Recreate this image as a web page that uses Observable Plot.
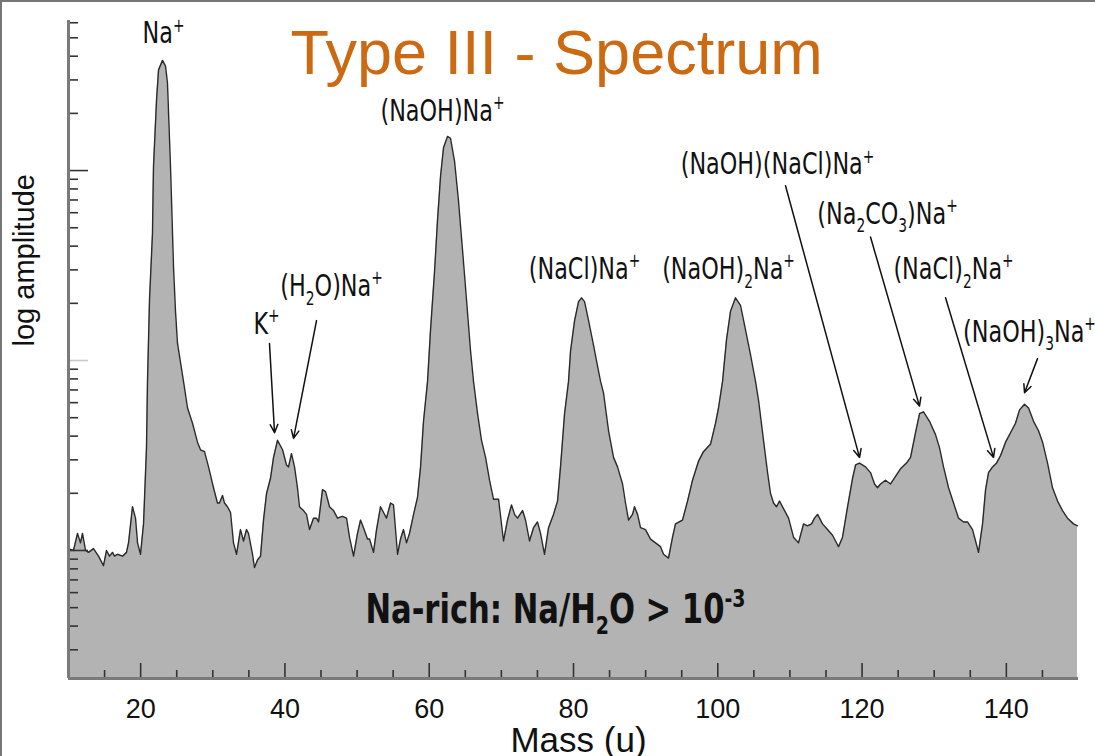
<!DOCTYPE html>
<html><head><meta charset="utf-8">
<script src="https://cdn.jsdelivr.net/npm/d3@7"></script>
<script src="https://cdn.jsdelivr.net/npm/@observablehq/plot@0.6"></script>
<style>
body{margin:0;background:#fff;}
#wrap{position:relative;width:1095px;height:756px;overflow:hidden;}
#border{position:absolute;left:0;top:0;width:1095px;height:756px;border-top:2px solid #777;border-left:2px solid #777;box-sizing:border-box;pointer-events:none;}
</style></head><body><div id="wrap"><div id="border"></div></div>
<script>
// Mass (u)
const mass = [10.00,10.69,11.25,11.66,11.94,12.36,12.77,13.47,14.16,14.85,15.27,15.68,16.10,16.38,16.79,17.49,18.04,18.32,18.87,19.29,19.57,19.98,20.40,20.81,20.95,21.23,21.64,21.78,22.20,22.48,23.03,23.45,23.72,24.14,24.56,24.83,25.11,25.94,26.50,27.19,27.88,28.30,28.85,29.41,30.10,30.65,30.93,31.35,31.62,32.04,32.46,32.87,33.29,33.84,34.26,34.67,34.95,35.51,35.78,36.20,36.62,37.03,37.45,38.00,38.42,38.97,39.67,40.22,40.50,40.91,41.33,41.74,42.02,42.58,42.99,43.41,43.96,44.38,44.66,45.21,45.63,46.18,46.74,47.29,47.98,48.54,48.95,49.51,50.06,50.48,50.89,51.45,51.73,52.28,52.70,53.25,53.67,54.08,54.64,55.05,55.61,56.02,56.44,56.85,57.27,57.83,58.38,58.80,59.21,59.77,60.18,60.74,61.15,61.57,61.98,62.54,62.95,63.51,64.06,64.62,65.17,65.73,66.14,66.70,67.25,67.81,68.36,68.91,69.61,70.30,70.85,71.41,71.83,72.24,72.94,73.35,73.90,74.46,75.01,75.43,75.98,76.54,77.23,77.79,78.20,78.76,79.31,79.59,80.15,80.70,81.12,81.53,82.09,82.78,83.33,83.75,84.16,84.86,85.55,86.10,86.80,87.21,87.63,88.18,88.46,88.88,89.29,89.98,90.68,91.37,92.06,92.48,93.17,93.73,94.14,95.11,95.81,96.50,97.33,98.02,99.00,99.69,100.10,100.66,101.21,101.77,102.46,103.15,103.85,104.54,105.23,105.65,106.34,106.90,107.31,107.73,108.14,108.56,109.11,109.81,110.50,111.19,111.89,112.44,113.00,113.41,113.83,114.52,115.21,115.91,116.32,116.74,117.29,117.99,118.68,119.10,119.65,120.48,121.17,121.73,122.14,122.56,123.25,123.95,124.64,125.33,126.16,126.72,127.41,127.97,128.52,129.35,130.18,130.74,131.29,131.99,132.68,133.37,134.07,134.62,135.31,135.73,136.14,136.70,137.12,137.53,138.09,138.64,139.20,139.89,140.58,141.27,141.83,142.52,143.08,143.77,144.46,145.02,145.71,146.40,147.10,147.79,148.48,149.31,149.86];
// log10 amplitude (arbitrary units)
const logAmp = [0.01,0.00,0.09,0.04,0.09,0.00,-0.01,0.01,-0.03,-0.08,0.00,-0.03,-0.01,-0.03,-0.02,-0.03,-0.01,0.04,0.23,0.17,0.04,-0.02,0.14,0.54,0.89,1.32,1.67,2.02,2.37,2.53,2.58,2.55,2.46,2.02,1.49,1.26,1.09,0.89,0.75,0.67,0.57,0.53,0.52,0.44,0.33,0.25,0.25,0.29,0.25,0.23,0.20,0.04,-0.02,0.11,0.05,0.11,0.09,-0.02,-0.09,-0.05,-0.03,0.16,0.30,0.38,0.49,0.58,0.53,0.45,0.44,0.51,0.44,0.33,0.23,0.21,0.19,0.11,0.17,0.17,0.15,0.32,0.31,0.23,0.21,0.17,0.18,0.17,0.07,-0.03,0.09,0.16,0.12,0.06,0.06,-0.01,0.11,0.23,0.20,0.17,0.25,0.24,-0.02,0.06,0.11,0.04,0.09,0.19,0.28,0.44,0.68,0.89,1.16,1.47,1.74,1.97,2.12,2.18,2.17,2.05,1.84,1.58,1.32,1.05,0.89,0.72,0.58,0.49,0.37,0.27,0.27,0.05,0.16,0.24,0.19,0.17,0.21,0.16,0.05,0.12,0.15,0.09,-0.02,0.12,0.19,0.26,0.44,0.72,0.89,1.05,1.21,1.31,1.33,1.31,1.21,1.08,0.97,0.89,0.83,0.63,0.49,0.44,0.35,0.25,0.16,0.19,0.23,0.19,0.12,0.11,0.06,0.04,0.02,-0.02,-0.04,0.07,0.14,0.16,0.26,0.37,0.47,0.52,0.56,0.67,0.75,0.89,1.11,1.26,1.33,1.29,1.16,1.03,0.89,0.79,0.58,0.41,0.30,0.25,0.23,0.26,0.22,0.17,0.07,0.04,0.14,0.13,0.14,0.17,0.19,0.14,0.11,0.08,0.05,0.02,0.07,0.23,0.38,0.45,0.46,0.44,0.41,0.35,0.33,0.35,0.37,0.35,0.39,0.43,0.46,0.49,0.62,0.72,0.73,0.68,0.61,0.54,0.44,0.33,0.25,0.17,0.15,0.15,0.11,0.05,-0.01,0.14,0.32,0.41,0.44,0.46,0.50,0.57,0.62,0.67,0.74,0.77,0.75,0.68,0.63,0.57,0.46,0.33,0.26,0.21,0.17,0.14,0.13];

// Axis ticks
const xTickLabels = [20, 40, 60, 80, 100, 120, 140];
const xMinorTicks = [15, 25, 30, 35, 45, 50, 55, 65, 70, 75, 85, 90, 95, 105, 110, 115, 125, 130, 135, 145];
const yDecadesDark = [0, 2];
const yDecadesLight = [1];
const yDecadeRange = [-1, 0, 1, 2];
const yMultipliers = [2, 3, 4, 5, 6, 7, 8, 9];
const yDomain = [-0.674, 2.79];
const xDomain = [10, 150];

// Annotations (position in mass / log amplitude units)
const labelText = ["Na^{+}", "(NaOH)Na^{+}", "K^{+}", "(H_{2}O)Na^{+}", "(NaCl)Na^{+}", "(NaOH)_{2}Na^{+}", "(NaOH)(NaCl)Na^{+}", "(Na_{2}CO_{3})Na^{+}", "(NaCl)_{2}Na^{+}", "(NaOH)_{3}Na^{+}"];
const labelMass = [23.17, 61.84, 37.45, 46.46, 81.53, 101.49, 108.28, 123.53, 132.68, 143.21];
const labelLog = [2.67, 2.26, 1.14, 1.34, 1.43, 1.43, 1.98, 1.72, 1.43, 1.10];
const arrowMass1 = [37.86, 44.38, 109.39, 121.17, 131.57, 144.32];
const arrowLog1 = [1.09, 1.21, 1.92, 1.65, 1.33, 1.01];
const arrowMass2 = [38.56, 41.19, 119.65, 127.96, 138.22, 142.52];
const arrowLog2 = [0.62, 0.59, 0.49, 0.76, 0.49, 0.83];
const captionText = "Na-rich: Na/H_{2}O > 10^{-3}";
const captionPos = {mass: 77.5, log: -0.38};
const titleText = "Type III - Spectrum";

const data = mass.map((m, i) => ({m, l: logAmp[i]}));
const labels = labelText.map((t, i) => ({t, m: labelMass[i], l: labelLog[i]}));
const arrows = arrowMass1.map((m, i) => ({x1: m, y1: arrowLog1[i], x2: arrowMass2[i], y2: arrowLog2[i]}));
const yMinor = [];
for (const d of yDecadeRange) for (const k of yMultipliers) {
  const v = d + Math.log10(k);
  if (v >= yDomain[0] && v <= yDomain[1]) yMinor.push(v);
}

const condensed = "'Liberation Sans Narrow', 'DejaVu Sans Condensed', sans-serif";
const sans = "'Liberation Sans', Arial, Helvetica, sans-serif";

const chart = Plot.plot({
  width: 1095, height: 756,
  marginLeft: 68, marginRight: 17, marginTop: 20, marginBottom: 78,
  x: {domain: xDomain, axis: null},
  y: {domain: yDomain, axis: null},
  style: {background: "transparent", fontFamily: sans},
  marks: [
    Plot.areaY(data, {x: "m", y1: yDomain[0], y2: "l", fill: "#b3b3b3", fillOpacity: 1}),
    Plot.lineY(data, {x: "m", y: "l", stroke: "#2a2a2a", strokeWidth: 1.4}),
    // y ticks (inward)
    Plot.axisY({ticks: yMinor, tickSize: -10, tickFormat: () => "", stroke: "#333", strokeWidth: 1.6, label: null}),
    Plot.axisY({ticks: yDecadesDark, tickSize: -20, tickFormat: () => "", stroke: "#333", strokeWidth: 1.6, label: null}),
    Plot.axisY({ticks: yDecadesLight, tickSize: -20, tickFormat: () => "", stroke: "#c8c8c8", strokeWidth: 1.6, label: null}),
    // x ticks (inward)
    Plot.axisX({ticks: xMinorTicks, tickSize: -8, tickFormat: () => "", stroke: "#333", strokeWidth: 1.6, label: null}),
    Plot.axisX({ticks: xTickLabels, tickSize: -15, tickFormat: () => "", stroke: "#333", strokeWidth: 1.6, label: null}),
    Plot.axisX({ticks: xTickLabels, tickSize: 0, tickPadding: 20, fontSize: 27, fill: "#111", label: null}),
    // axis lines
    Plot.ruleX([xDomain[0]], {stroke: "#7a7a7a", strokeWidth: 3}),
    Plot.ruleY([yDomain[0]], {stroke: "#7a7a7a", strokeWidth: 3}),
    // axis titles
    Plot.text([titleText], {frameAnchor: "bottom", text: d => "Mass (u)", dx: 5, dy: 73, lineAnchor: "bottom", fontSize: 35, fill: "#111"}),
    Plot.text([titleText], {frameAnchor: "left", text: d => "log amplitude", rotate: -90, dx: -35, dy: -3, lineAnchor: "bottom", fontSize: 29, fill: "#111"}),
    // title
    Plot.text([titleText], {frameAnchor: "top-left", text: d => d, dx: 222, dy: 53, textAnchor: "start", lineAnchor: "bottom", fontSize: 63, fill: "#cc6a14", fontFamily: sans}),
    // arrows
    Plot.arrow(arrows, {x1: "x1", y1: "y1", x2: "x2", y2: "y2", stroke: "#111", strokeWidth: 1.5, headLength: 9, headAngle: 50}),
    // peak labels
    Plot.text(labels, {x: "m", y: "l", text: "t", lineAnchor: "bottom", fontSize: 31, fill: "#111", fontFamily: condensed, className: "rich"}),
    // caption
    Plot.text([captionText], {x: () => captionPos.mass, y: () => captionPos.log, text: d => d, lineAnchor: "bottom", fontSize: 40, fontWeight: "bold", fill: "#111", fontFamily: condensed, className: "richbold"})
  ]
});

document.getElementById("wrap").prepend(chart);

// rich text: _{..} subscript, ^{..} superscript
const svgNS = "http://www.w3.org/2000/svg";
function rich(el, squeeze) {
  const s = el.textContent;
  const fs = parseFloat(getComputedStyle(el).fontSize) || 30;
  const parts = s.split(/([_^]\{[^}]*\})/).filter(p => p);
  while (el.firstChild) el.removeChild(el.firstChild);
  let shift = 0;
  for (const p of parts) {
    let mode = 0, str = p;
    if (p.startsWith("_{")) { mode = 1; str = p.slice(2, -1); }
    else if (p.startsWith("^{")) { mode = -1; str = p.slice(2, -1); }
    const target = mode === 1 ? 0.28 * fs : mode === -1 ? -0.38 * fs : 0;
    const t = document.createElementNS(svgNS, "tspan");
    t.setAttribute("dy", (target - shift).toFixed(2));
    if (mode !== 0) t.setAttribute("font-size", (fs * 0.62).toFixed(1));
    t.textContent = str;
    el.appendChild(t);
    shift = target;
  }
  const L = el.getComputedTextLength();
  el.setAttribute("textLength", (L * squeeze).toFixed(1));
  el.setAttribute("lengthAdjust", "spacingAndGlyphs");
}
chart.querySelectorAll("g.rich text").forEach(el => rich(el, 0.8));
chart.querySelectorAll("g.richbold text").forEach(el => rich(el, 0.85));
</script>
</body></html>
